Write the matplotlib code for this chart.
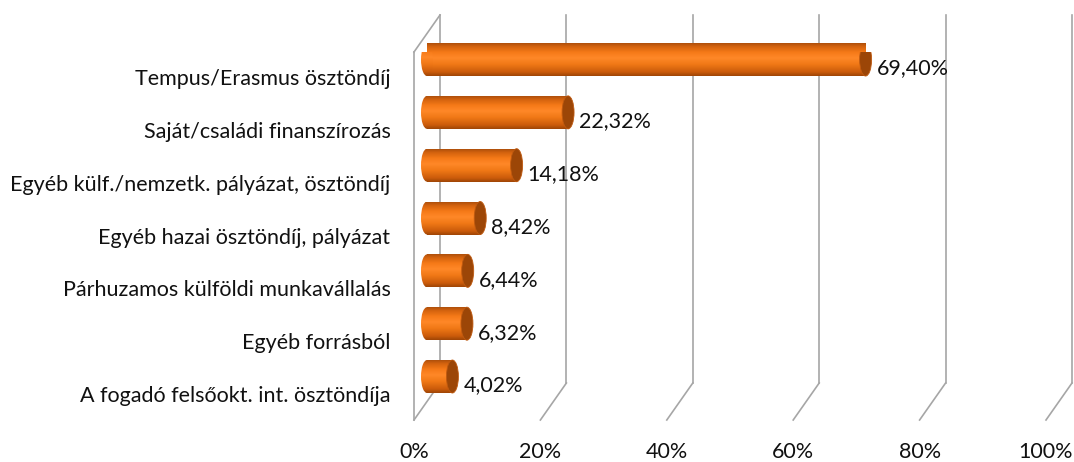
import numpy as np
import matplotlib
matplotlib.use('Agg')
import matplotlib.pyplot as plt
from matplotlib.colors import LinearSegmentedColormap
from matplotlib.patches import Rectangle, Ellipse
from matplotlib.transforms import ScaledTranslation

plt.rcParams['font.family'] = ['Lato', 'DejaVu Sans']

# data, bottom category first
categories = ['A fogadó felsőokt. int. ösztöndíja',
              'Egyéb forrásból',
              'Párhuzamos külföldi munkavállalás',
              'Egyéb hazai ösztöndíj, pályázat',
              'Egyéb külf./nemzetk. pályázat, ösztöndíj',
              'Saját/családi finanszírozás',
              'Tempus/Erasmus ösztöndíj']
values = [4.02, 6.32, 6.44, 8.42, 14.18, 22.32, 69.40]
value_labels = ['4,02%', '6,32%', '6,44%', '8,42%', '14,18%', '22,32%', '69,40%']
ticks = [0, 20, 40, 60, 80, 100]
tick_labels = ['0%', '20%', '40%', '60%', '80%', '100%']

W, H = 1074, 462
fig = plt.figure(figsize=(W / 100, H / 100), dpi=100)
ax = fig.add_axes([414 / W, (H - 420) / H, 632 / W, 368 / H])
ymin, ymax = -0.492, 6.474
ax.set_xlim(0, 100)
ax.set_ylim(ymin, ymax)
ax.set_frame_on(False)

# pixel -> data units
pxx = 632 / 100.0
pxy = 368 / (ymax - ymin)

# depth offsets (back wall / middle of the box)
dbx, dby = 26, 37
back = ax.transData + ScaledTranslation(dbx / 100, dby / 100, fig.dpi_scale_trans)
mid = ax.transData + ScaledTranslation(13 / 100, 17.5 / 100, fig.dpi_scale_trans)

grid_kw = dict(color='#a6a6a6', lw=1.2, clip_on=False, zorder=1)

# back wall gridlines
for t in ticks:
    ax.plot([t, t], [ymin, ymax], transform=back, **grid_kw)
    # floor diagonals
    ax.plot([t, t + dbx / pxx], [ymin, ymin + dby / pxy], **grid_kw)
# left wall
ax.plot([0, 0], [ymin, ymax], **grid_kw)
ax.plot([0, dbx / pxx], [ymax, ymax + dby / pxy], **grid_kw)

# cylinder shading
shade = LinearSegmentedColormap.from_list('shade', [
    (0.0, '#a04606'), (0.12, '#cc5c0b'), (0.35, '#f07816'),
    (0.55, '#ff8828'), (0.72, '#f67a18'), (0.9, '#d4630e'), (1.0, '#b0500b')])
grad = np.linspace(0, 1, 64).reshape(-1, 1)

bh = 33 / pxy
cap_w = 12 / pxx
for i, v in enumerate(values):
    y0 = i - bh / 2
    body = Rectangle((0, y0), v, bh, transform=mid, facecolor='none', edgecolor='none')
    ax.add_patch(body)
    im = ax.imshow(grad, cmap=shade, aspect='auto', origin='lower',
                   extent=(0, v, y0, y0 + bh), transform=mid, zorder=3)
    im.set_clip_path(body)
    left = Ellipse((0, i), cap_w, bh, transform=mid, facecolor='none', edgecolor='none')
    ax.add_patch(left)
    im2 = ax.imshow(grad, cmap=shade, aspect='auto', origin='lower',
                    extent=(-cap_w, cap_w, y0, y0 + bh), transform=mid, zorder=3)
    im2.set_clip_path(left)
    ax.add_patch(Ellipse((v, i), cap_w, bh, transform=mid, facecolor='#9c4607',
                         edgecolor='#c05a10', lw=0.6, zorder=4))
    ax.annotate(value_labels[i], xy=(v, i), xycoords=mid, xytext=(11, -9),
                textcoords='offset pixels', ha='left', va='center',
                fontsize=15.5, color='#111111', zorder=5)

ax.set_xticks(ticks, tick_labels)
ax.set_yticks(range(len(categories)), categories)
ax.tick_params(axis='x', length=0, pad=16, labelsize=15.5, labelcolor='#111111')
ax.tick_params(axis='y', length=0, pad=17, labelsize=15.5, labelcolor='#111111')

fig.savefig('out.png', dpi=100)
